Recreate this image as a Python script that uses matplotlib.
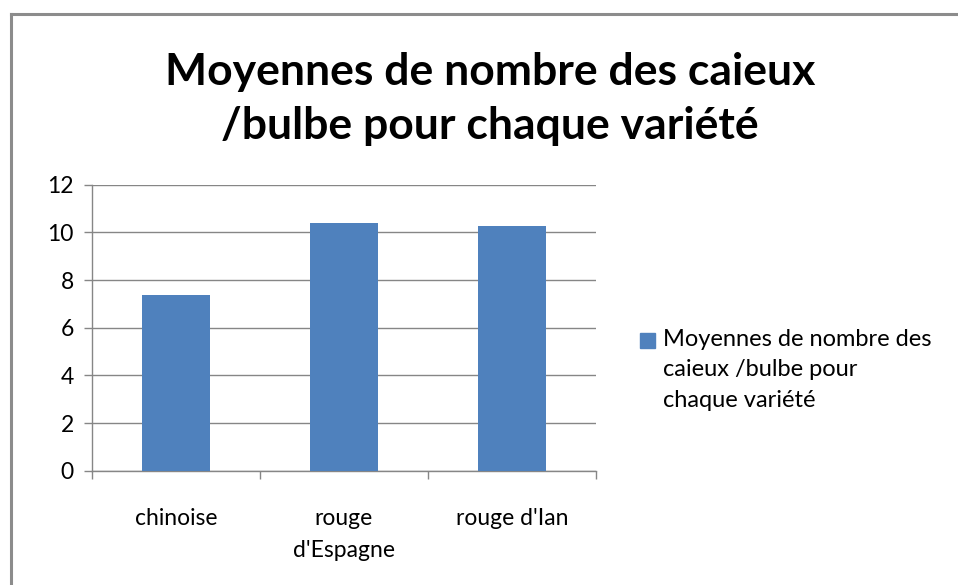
import matplotlib
matplotlib.use("Agg")
import matplotlib.pyplot as plt
from matplotlib.lines import Line2D
from matplotlib.patches import Rectangle

plt.rcParams['font.family'] = ['Lato', 'DejaVu Sans']

# data
categories = ["chinoise", "rouge\nd'Espagne", "rouge d'Ian"]
values = [7.38, 10.38, 10.26]
series_name = "Moyennes de nombre des\ncaieux /bulbe pour\nchaque variété"
title = "Moyennes de nombre des caieux\n/bulbe pour chaque variété"
yticks = [0, 2, 4, 6, 8, 10, 12]

bar_color = '#4F81BD'
grid_color = '#868686'

W, H = 958, 585
fig = plt.figure(figsize=(W / 100, H / 100), dpi=100)

# outer chart frame (cut off at the right and bottom edges)
fig.add_artist(Line2D([10.5 / W, 10.5 / W], [0, 1 - 14 / H], transform=fig.transFigure,
                      color='#8c8c8c', lw=2.2))
fig.add_artist(Line2D([10.5 / W, 1], [1 - 14 / H, 1 - 14 / H], transform=fig.transFigure,
                      color='#8c8c8c', lw=2.2))

ax = fig.add_axes([92 / W, 1 - 470.7 / H, (596 - 92) / W, (470.7 - 184.7) / H])
x = list(range(len(categories)))
ax.bar(x, values, width=0.4, color=bar_color, zorder=3)

ax.set_xlim(-0.5, len(categories) - 0.5)
ax.set_ylim(0, 12)
ax.set_yticks(yticks)
ax.set_yticklabels([str(t) for t in yticks], fontsize=16.5)
ax.yaxis.grid(True, color=grid_color, lw=1)
ax.set_axisbelow(True)

# category boundaries as major ticks, labels on minor ticks
ax.set_xticks([i - 0.5 for i in range(len(categories) + 1)])
ax.set_xticklabels([])
ax.set_xticks(x, minor=True)
ax.set_xticklabels(categories, minor=True, fontsize=16.5, linespacing=1.62)
ax.tick_params(axis='x', which='minor', length=0, pad=27)
ax.tick_params(axis='x', which='major', length=6, color=grid_color, width=1)
ax.tick_params(axis='y', length=6, color=grid_color, width=1, pad=7)

for s in ['top', 'right']:
    ax.spines[s].set_visible(False)
for s in ['left', 'bottom']:
    ax.spines[s].set_color(grid_color)
    ax.spines[s].set_linewidth(1)

fig.text(490 / W, 1 - 99 / H, title, ha='center', va='center', fontsize=32,
         fontweight='bold', linespacing=1.42)

# legend: square aligned with the first text line
fig.add_artist(Rectangle((640 / W, 1 - 348 / H), 15 / W, 15 / H,
                         transform=fig.transFigure, color=bar_color))
fig.text(663 / W, 1 - 329 / H, series_name, ha='left', va='top', fontsize=17,
         linespacing=1.55)

fig.savefig("out.png", dpi=100, facecolor='white')
